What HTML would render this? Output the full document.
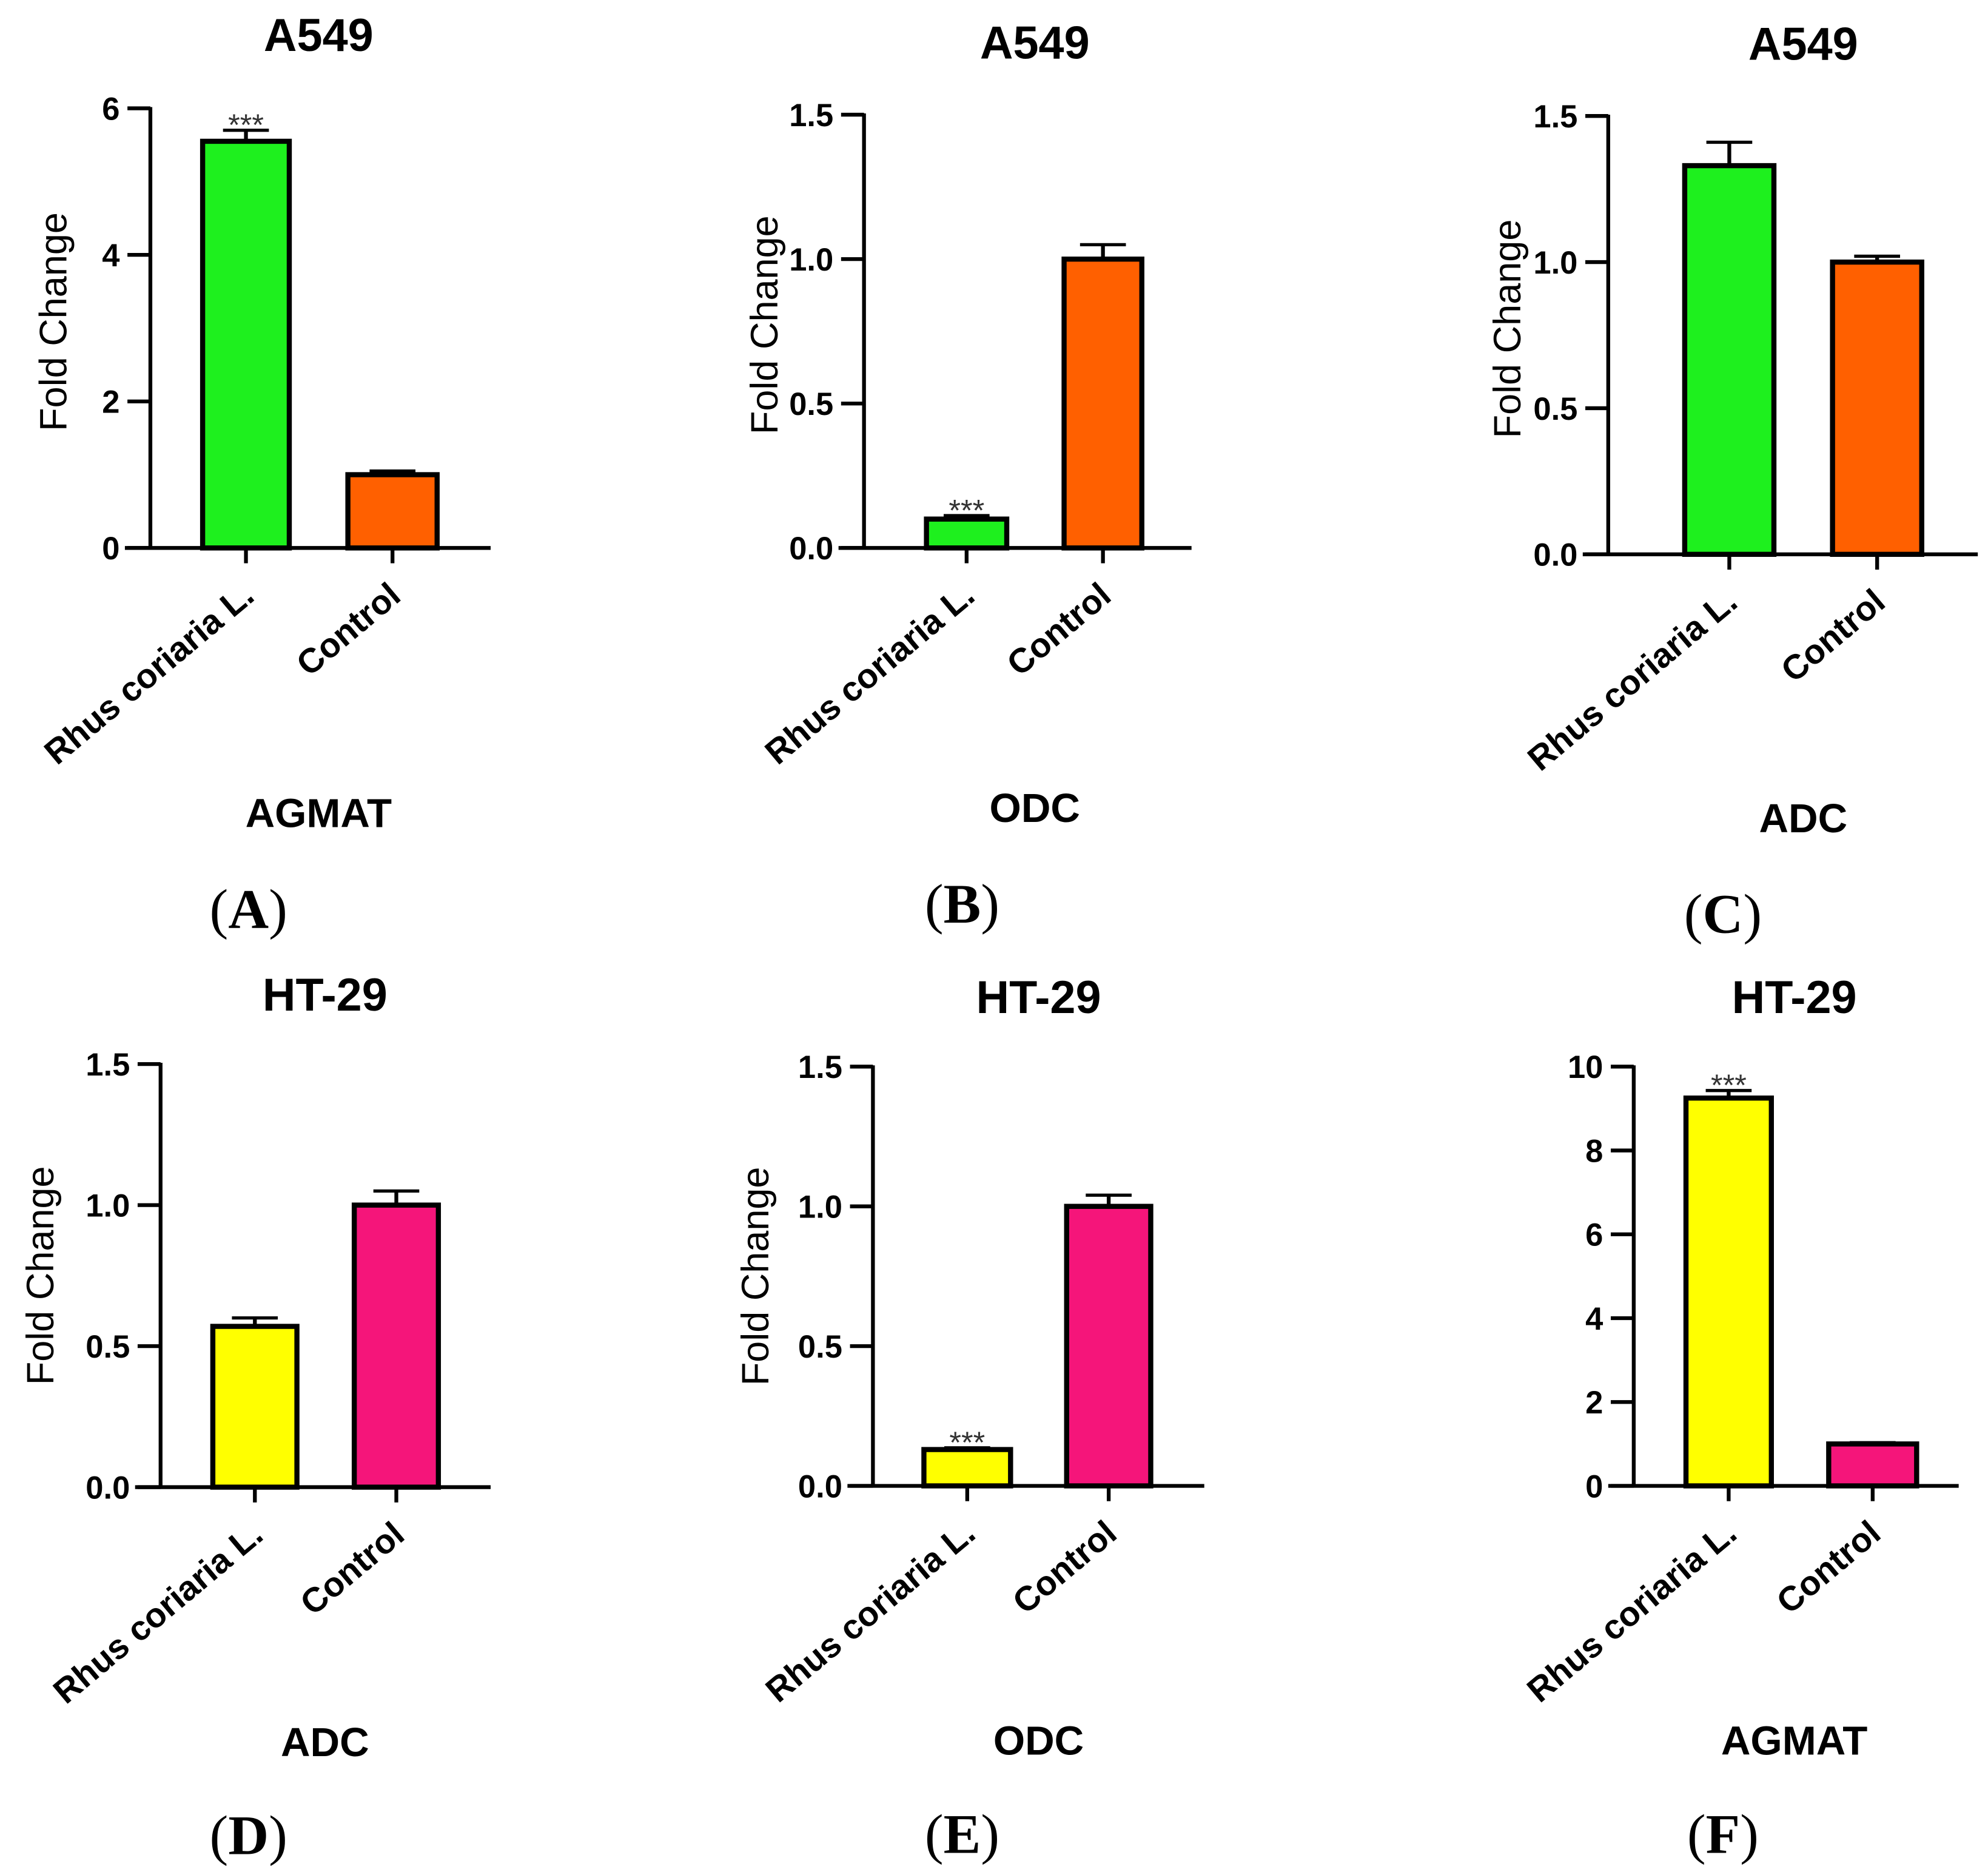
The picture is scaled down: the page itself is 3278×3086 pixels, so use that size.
<!DOCTYPE html>
<html><head><meta charset="utf-8"><style>
html,body{margin:0;padding:0;background:#fff}
svg{display:block}
text{font-family:"Liberation Sans",sans-serif}
</style></head><body>
<svg id="fig" width="3278" height="3086" viewBox="0 0 1560 1469" preserveAspectRatio="none" xmlns="http://www.w3.org/2000/svg"></svg>
<script>
const panelIds = ["A","B","C","D","E","F"];
const cellLines = ["A549","A549","A549","HT-29","HT-29","HT-29"];
const genes = ["AGMAT","ODC","ADC","ADC","ODC","AGMAT"];
const categories = ["Rhus coriaria L.","Control"];
const treatedValues = [5.55,0.1,1.33,0.57,0.13,9.25];
const treatedErrors = [0.15,0.012,0.08,0.03,0.006,0.18];
const controlValues = [1.0,1.0,1.0,1.0,1.0,1.0];
const controlErrors = [0.05,0.05,0.02,0.05,0.04,0.03];
const yMaxes = [6,1.5,1.5,1.5,1.5,10];
const yTickLabels = [["0","2","4","6"],["0.0","0.5","1.0","1.5"],["0.0","0.5","1.0","1.5"],["0.0","0.5","1.0","1.5"],["0.0","0.5","1.0","1.5"],["0","2","4","6","8","10"]];
const significance = ["***","***","","","***","***"];

// layout (not data)
const layout = [
 {ax:118,top:85,bot:430,end:385,b1:[157,229],b2:[271,345],tx:250,ty:27,gy:637,lx:195,fx:42},
 {ax:678,top:90,bot:430,end:935,b1:[725,792],b2:[833,898],tx:812,ty:33,gy:633,lx:755,fx:600},
 {ax:1262,top:91,bot:435,end:1552,b1:[1320,1394],b2:[1436,1510],tx:1415,ty:34,gy:641,lx:1352,fx:1183},
 {ax:126,top:835,bot:1167,end:385,b1:[165,235],b2:[276,346],tx:255,ty:780,gy:1366,lx:195,fx:32},
 {ax:685,top:837,bot:1166,end:945,b1:[723,795],b2:[835,905],tx:815,ty:782,gy:1365,lx:755,fx:593},
 {ax:1282,top:837,bot:1166,end:1537,b1:[1321,1392],b2:[1433,1506],tx:1408,ty:782,gy:1365,lx:1352,fx:null}
];
const treatedColors = ["#1ef01e","#1ef01e","#1ef01e","#ffff00","#ffff00","#ffff00"];
const controlColors = ["#ff6000","#ff6000","#ff6000","#f5157a","#f5157a","#f5157a"];

const svg = document.getElementById('fig');
const NS = "http://www.w3.org/2000/svg";
function mk(tag, attrs, parent){const e=document.createElementNS(NS,tag);for(const k in attrs)e.setAttribute(k,attrs[k]);(parent||svg).appendChild(e);return e;}

panelIds.forEach((pid,i)=>{
  const L = layout[i];
  const g = mk('g',{});
  
  
  const y = v => L.bot - (v / yMaxes[i]) * (L.bot - L.top);
  const t = mk('text',{x:L.tx,y:L.ty+13,'text-anchor':'middle','font-size':36,'font-weight':'bold'},g);
  t.textContent = cellLines[i];
  
  
  const bars = [[L.b1,treatedValues[i],treatedErrors[i],treatedColors[i]],[L.b2,controlValues[i],controlErrors[i],controlColors[i]]];
  bars.forEach((b,j)=>{
    const [xr,v,e,c] = b;
    const cx = (xr[0]+xr[1])/2;
    const el = mk('line',{x1:cx,x2:cx,y1:y(v),y2:y(v+e),stroke:'#000','stroke-width':3},g);
    
    
    const cap = mk('line',{x1:cx-18,x2:cx+18,y1:y(v+e),y2:y(v+e),stroke:'#000','stroke-width':2.5},g);
    
    
    const r = mk('rect',{x:xr[0]+2,y:y(v),width:xr[1]-xr[0]-4,height:L.bot-y(v),fill:c,stroke:'#000','stroke-width':4},g);
    
    
    if(j===0 && significance[i]){
      const s = mk('text',{x:cx,y:y(v+e)+4,'text-anchor':'middle','font-size':24,fill:'#333'},g);
      s.textContent = significance[i];
      
      
    }
    const tk = mk('line',{x1:cx,x2:cx,y1:L.bot,y2:L.bot+12,stroke:'#000','stroke-width':3},g);
    
    
    const cl = mk('text',{x:cx+8,y:L.bot+40,'text-anchor':'end','font-size':27,'font-weight':'bold',transform:`rotate(-40 ${cx+8} ${L.bot+40})`},g);
    cl.textContent = categories[j];
    
    
  });
  const ya = mk('line',{x1:L.ax,x2:L.ax,y1:L.top-1,y2:L.bot,stroke:'#000','stroke-width':3},g);
  
  
  const xa = mk('line',{x1:L.ax-20,x2:L.end,y1:L.bot,y2:L.bot,stroke:'#000','stroke-width':3},g);
  
  
  const ticks = yTickLabels[i];
  ticks.forEach((lab,k)=>{
    const v = yMaxes[i]*k/(ticks.length-1);
    const tl = mk('line',{x1:L.ax-18,x2:L.ax,y1:y(v),y2:y(v),stroke:'#000','stroke-width':3},g);
    
    
    const tt = mk('text',{x:L.ax-24,y:y(v)+9,'text-anchor':'end','font-size':25,'font-weight':'bold'},g);
    tt.textContent = lab;
    
    
  });
  if(L.fx!==null){
    const my = (L.top+L.bot)/2+ (i<3?-5:0);
    const fc = mk('text',{x:L.fx,y:my,'text-anchor':'middle','font-size':30,transform:`rotate(-90 ${L.fx} ${my})`,'dominant-baseline':'central'},g);
    fc.textContent = 'Fold Change';
    
    
  }
  const gn = mk('text',{x:L.tx,y:L.gy+12,'text-anchor':'middle','font-size':32,'font-weight':'bold'},g);
  gn.textContent = genes[i];
  
  
  const pl = mk('text',{x:L.lx,y:L.gy+ (i<3?91:89),'text-anchor':'middle','font-size':44,style:'font-family:"Liberation Serif",serif'},g);
  pl.innerHTML = '(<tspan font-weight="bold">'+pid+'</tspan>)';
  
  
});
</script>
</body></html>
